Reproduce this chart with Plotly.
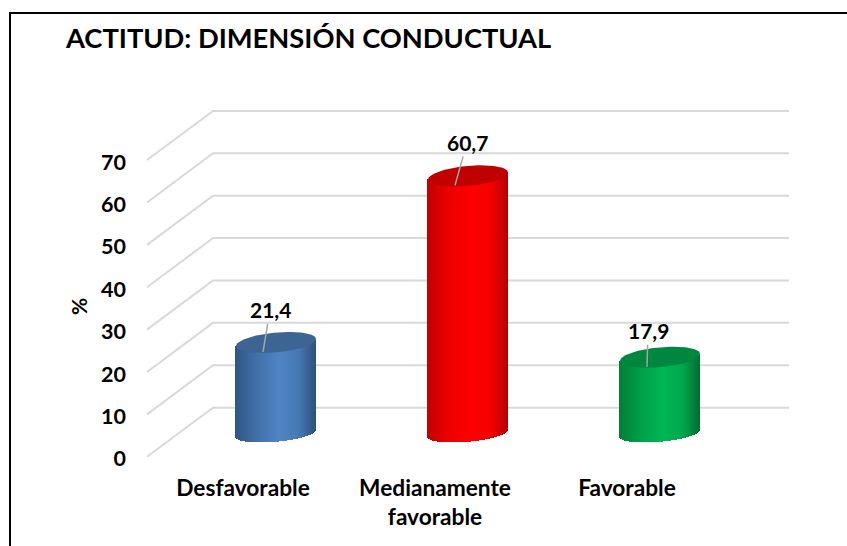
import numpy as np
import plotly.graph_objects as go

# ---- data ----
categories = ["Desfavorable", "Medianamente<br>favorable", "Favorable"]
values = [21.4, 60.7, 17.9]
y_ticks = [0, 10, 20, 30, 40, 50, 60, 70]
title_text = "ACTITUD: DIMENSIÓN CONDUCTUAL"
y_title = "%"

# ---- style ----
FONT = "Lato"
INK = "#000000"
GRID = "#d9d9d9"
gradients = [
    ["#2f5583", "#4271aa", "#5185c6", "#4678b4", "#30527c"],
    ["#c00000", "#ee0000", "#ff0000", "#f40000", "#b80000"],
    ["#007f38", "#00a049", "#00b856", "#00a64c", "#006f32"],
]
lids = ["#3c6593", "#c00000", "#00873f"]
leader_offsets = [(7, -42), (12, -43), (1, -36)]

PX_X, PX_Y = 192.0, 4.245        # pixels per axis unit
DEPTH_X, DEPTH_Y = 66 / PX_X, 11.6
RX = 40 / PX_X
LID_B, FOOT_B, TILT = 10 / PX_Y, 8.6 / PX_Y, 3.5 / PX_Y
STOPS = [-1, -0.45, 0.1, 0.6, 1]


def hex_rgb(c):
    return np.array([int(c[i:i + 2], 16) for i in (1, 3, 5)], dtype=float)


def shade(colors, t):
    arr = np.array([hex_rgb(c) for c in colors])
    return "rgb(%d,%d,%d)" % tuple(np.interp(t, STOPS, arr[:, k]) for k in range(3))


fig = go.Figure()
annotations = []
N = 80
ts = (np.arange(N) + 0.5) / N * 2 - 1
for i, v in enumerate(values):
    cx = i + DEPTH_X / 2
    y0 = DEPTH_Y * 0.48
    yc = y0 + v
    root = np.sqrt(1 - ts ** 2)
    lower = y0 + TILT * ts - FOOT_B * root
    upper = yc + TILT * ts
    fig.add_trace(go.Bar(
        x=cx + RX * ts, base=lower, y=upper - lower, width=2 * RX / N * 1.05,
        marker=dict(color=[shade(gradients[i], t) for t in ts], line=dict(width=0)),
        hoverinfo="skip", showlegend=False,
    ))
    a = np.linspace(0, 2 * np.pi, 121)
    fig.add_trace(go.Scatter(
        x=cx + RX * np.cos(a), y=yc + TILT * np.cos(a) + LID_B * np.sin(a),
        mode="lines", fill="toself", fillcolor=lids[i], line=dict(width=0, color=lids[i]),
        hoverinfo="skip", showlegend=False,
    ))
    ax, ay = leader_offsets[i]
    annotations.append(dict(
        x=cx - 13 / PX_X, y=yc - 9.5 / PX_Y, xref="x", yref="y",
        ax=ax, ay=ay, axref="pixel", ayref="pixel",
        text=f"{v:.1f}".replace(".", ","), showarrow=True, arrowhead=0, arrowwidth=1.5,
        arrowcolor="#a6a6a6", standoff=0, startstandoff=0,
        font=dict(family=FONT, size=21, color=INK, weight=700),
    ))

# receding gridlines on floor/side wall and back wall
x_left, x_right = -0.5, 2.5
shapes = []
for t in y_ticks:
    shapes.append(dict(
        type="path", xref="x", yref="y", layer="below",
        path=f"M {x_left} {t} L {x_left + DEPTH_X} {t + DEPTH_Y} L {x_right + DEPTH_X} {t + DEPTH_Y}",
        line=dict(color=GRID, width=2),
    ))

# outer frame
M_L, M_R, PLOT_T, PLOT_B = 143, 54, 104.7, 461.2
W, H = 847, 546
pw, ph = W - M_L - M_R, PLOT_B - PLOT_T
def fx(px): return (px - M_L) / pw
def fy(px): return (PLOT_B - px) / ph
shapes.append(dict(type="path", xref="paper", yref="paper", layer="above",
                   path=f"M {fx(10)} {fy(550)} L {fx(10)} {fy(12.5)} L {fx(850)} {fy(12.5)}",
                   line=dict(color=INK, width=2)))

annotations.append(dict(
    x=fx(78), y=fy(307), xref="paper", yref="paper", text=y_title, textangle=-90,
    xanchor="center", yanchor="middle",
    showarrow=False, font=dict(family=FONT, size=21, color=INK, weight=700),
))

fig.update_layout(
    width=W, height=H, autosize=False,
    margin=dict(l=M_L, r=M_R, t=PLOT_T, b=H - PLOT_B, pad=0),
    paper_bgcolor="white", plot_bgcolor="rgba(0,0,0,0)",
    barmode="overlay", bargap=0,
    title=dict(text=title_text, x=66 / W, xanchor="left", xref="container",
               y=1 - 38 / H, yanchor="middle", yref="container",
               font=dict(family=FONT, size=27.3, color=INK, weight=700)),
    xaxis=dict(range=[(M_L - 243) / PX_X, (W - M_R - 243) / PX_X],
               tickmode="array", tickvals=list(range(len(categories))), ticktext=categories,
               showgrid=False, zeroline=False, showline=False, ticks="",
               ticklabelstandoff=11, tickangle=0,
               tickfont=dict(family=FONT, size=22.7, color=INK, weight=700)),
    yaxis=dict(range=[-(PLOT_B - 457) / PX_Y, (457 - PLOT_T) / PX_Y],
               tickmode="array", tickvals=y_ticks,
               showgrid=False, zeroline=False, showline=False, ticks="",
               ticklabelstandoff=16, ticklabelshift=2,
               tickfont=dict(family=FONT, size=21.5, color=INK, weight=700)),
    shapes=shapes, annotations=annotations,
)

fig.write_html("out.html", config={"displayModeBar": False},
               post_script="document.body.style.margin='0';")
